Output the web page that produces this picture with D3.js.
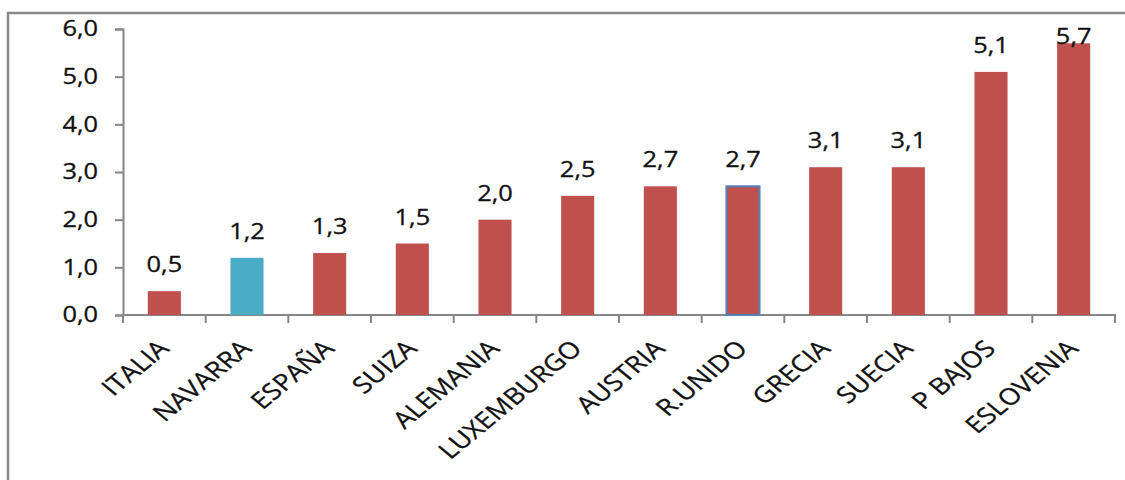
<!DOCTYPE html>
<html>
<head>
<meta charset="utf-8">
<script src="https://cdn.jsdelivr.net/npm/d3@7"></script>
<style>
  html, body { margin: 0; padding: 0; background: #fff; }
  svg { display: block; }
  text { font-family: "Open Sans", sans-serif; fill: #111; stroke: #111; stroke-width: 0.3px; }
</style>
</head>
<body>
<svg id="chart" width="1125" height="480"></svg>
<script>
const categories = ["ITALIA", "NAVARRA", "ESPAÑA", "SUIZA", "ALEMANIA", "LUXEMBURGO", "AUSTRIA", "R.UNIDO", "GRECIA", "SUECIA", "P BAJOS", "ESLOVENIA"];
const values = [0.5, 1.2, 1.3, 1.5, 2.0, 2.5, 2.7, 2.7, 3.1, 3.1, 5.1, 5.7];
const yTicks = [0, 1, 2, 3, 4, 5, 6];
const highlightFill = "NAVARRA";
const highlightOutline = "R.UNIDO";

const svg = d3.select("#chart");
const W = 1125, H = 480;
const mLeft = 123, mRight = 1115, mTop = 29, mBottom = 315;
const SX = 1.21; // horizontal stretch of text in reference

// outer frame
svg.append("rect").attr("x", 8).attr("y", 13).attr("width", W + 20).attr("height", H + 20)
  .attr("fill", "none").attr("stroke", "#888").attr("stroke-width", 2.5);

const x = d3.scaleBand().domain(categories).range([mLeft, mRight]).paddingInner(0.6).paddingOuter(0.3);
const xb = d3.scaleBand().domain(categories).range([mLeft, mRight]);
const y = d3.scaleLinear().domain([0, 6]).range([mBottom, mTop]);
const fmt = v => d3.format(".1f")(v).replace(".", ",");

// y axis
const yAxis = d3.axisLeft(y).tickValues(yTicks).tickFormat(fmt).tickSize(8).tickPadding(17);
const gy = svg.append("g").attr("transform", `translate(${mLeft},0)`).call(yAxis);
gy.select(".domain").attr("stroke", "#868686").attr("stroke-width", 2);
gy.selectAll(".tick line").attr("stroke", "#868686").attr("stroke-width", 2);
gy.selectAll(".tick text").attr("font-size", 21).attr("font-family", "Open Sans")
  .attr("fill", "#111")
  .attr("x", 0)
  .attr("transform", `translate(-25,0) scale(${SX},1)`);

// x axis line & ticks
const xAxis = d3.axisBottom(xb).tickSize(0).tickFormat("");
const gx = svg.append("g").attr("transform", `translate(0,${mBottom})`).call(xAxis);
gx.select(".domain").attr("stroke", "#868686").attr("stroke-width", 2).attr("d", `M${mLeft},0H${mRight}V8`);
const boundaries = categories.map(c => xb(c));
gx.selectAll(".bt").data(boundaries).join("line").attr("class", "bt")
  .attr("x1", d => d).attr("x2", d => d).attr("y1", 0).attr("y2", 8)
  .attr("stroke", "#868686").attr("stroke-width", 2);

// bars
svg.append("g").selectAll("rect").data(categories).join("rect")
  .attr("x", d => x(d))
  .attr("y", (d, i) => y(values[i]))
  .attr("width", x.bandwidth())
  .attr("height", (d, i) => y(0) - y(values[i]))
  .attr("fill", d => d === highlightFill ? "#4BACC6" : "#C0504D")
  .attr("stroke", d => d === highlightOutline ? "#4F81BD" : "none")
  .attr("stroke-width", 2);

// value labels
svg.append("g").selectAll("text").data(categories).join("text")
  .attr("transform", (d, i) => {
    const cx = xb(d) + xb.bandwidth() / 2;
    const by = Math.max(y(values[i]) - 19, 44);
    return `translate(${cx},${by}) scale(${SX},1)`;
  })
  .attr("text-anchor", "middle")
  .attr("font-size", 21)
  .text((d, i) => fmt(values[i]));

// category labels
svg.append("g").selectAll("text").data(categories).join("text")
  .attr("transform", d => {
    const cx = xb(d) + xb.bandwidth() / 2;
    return `translate(${cx + 6},${350}) scale(${SX},1) rotate(-45)`;
  })
  .attr("text-anchor", "end")
  .attr("font-size", 23)
  .text(d => d);
</script>
</body>
</html>
